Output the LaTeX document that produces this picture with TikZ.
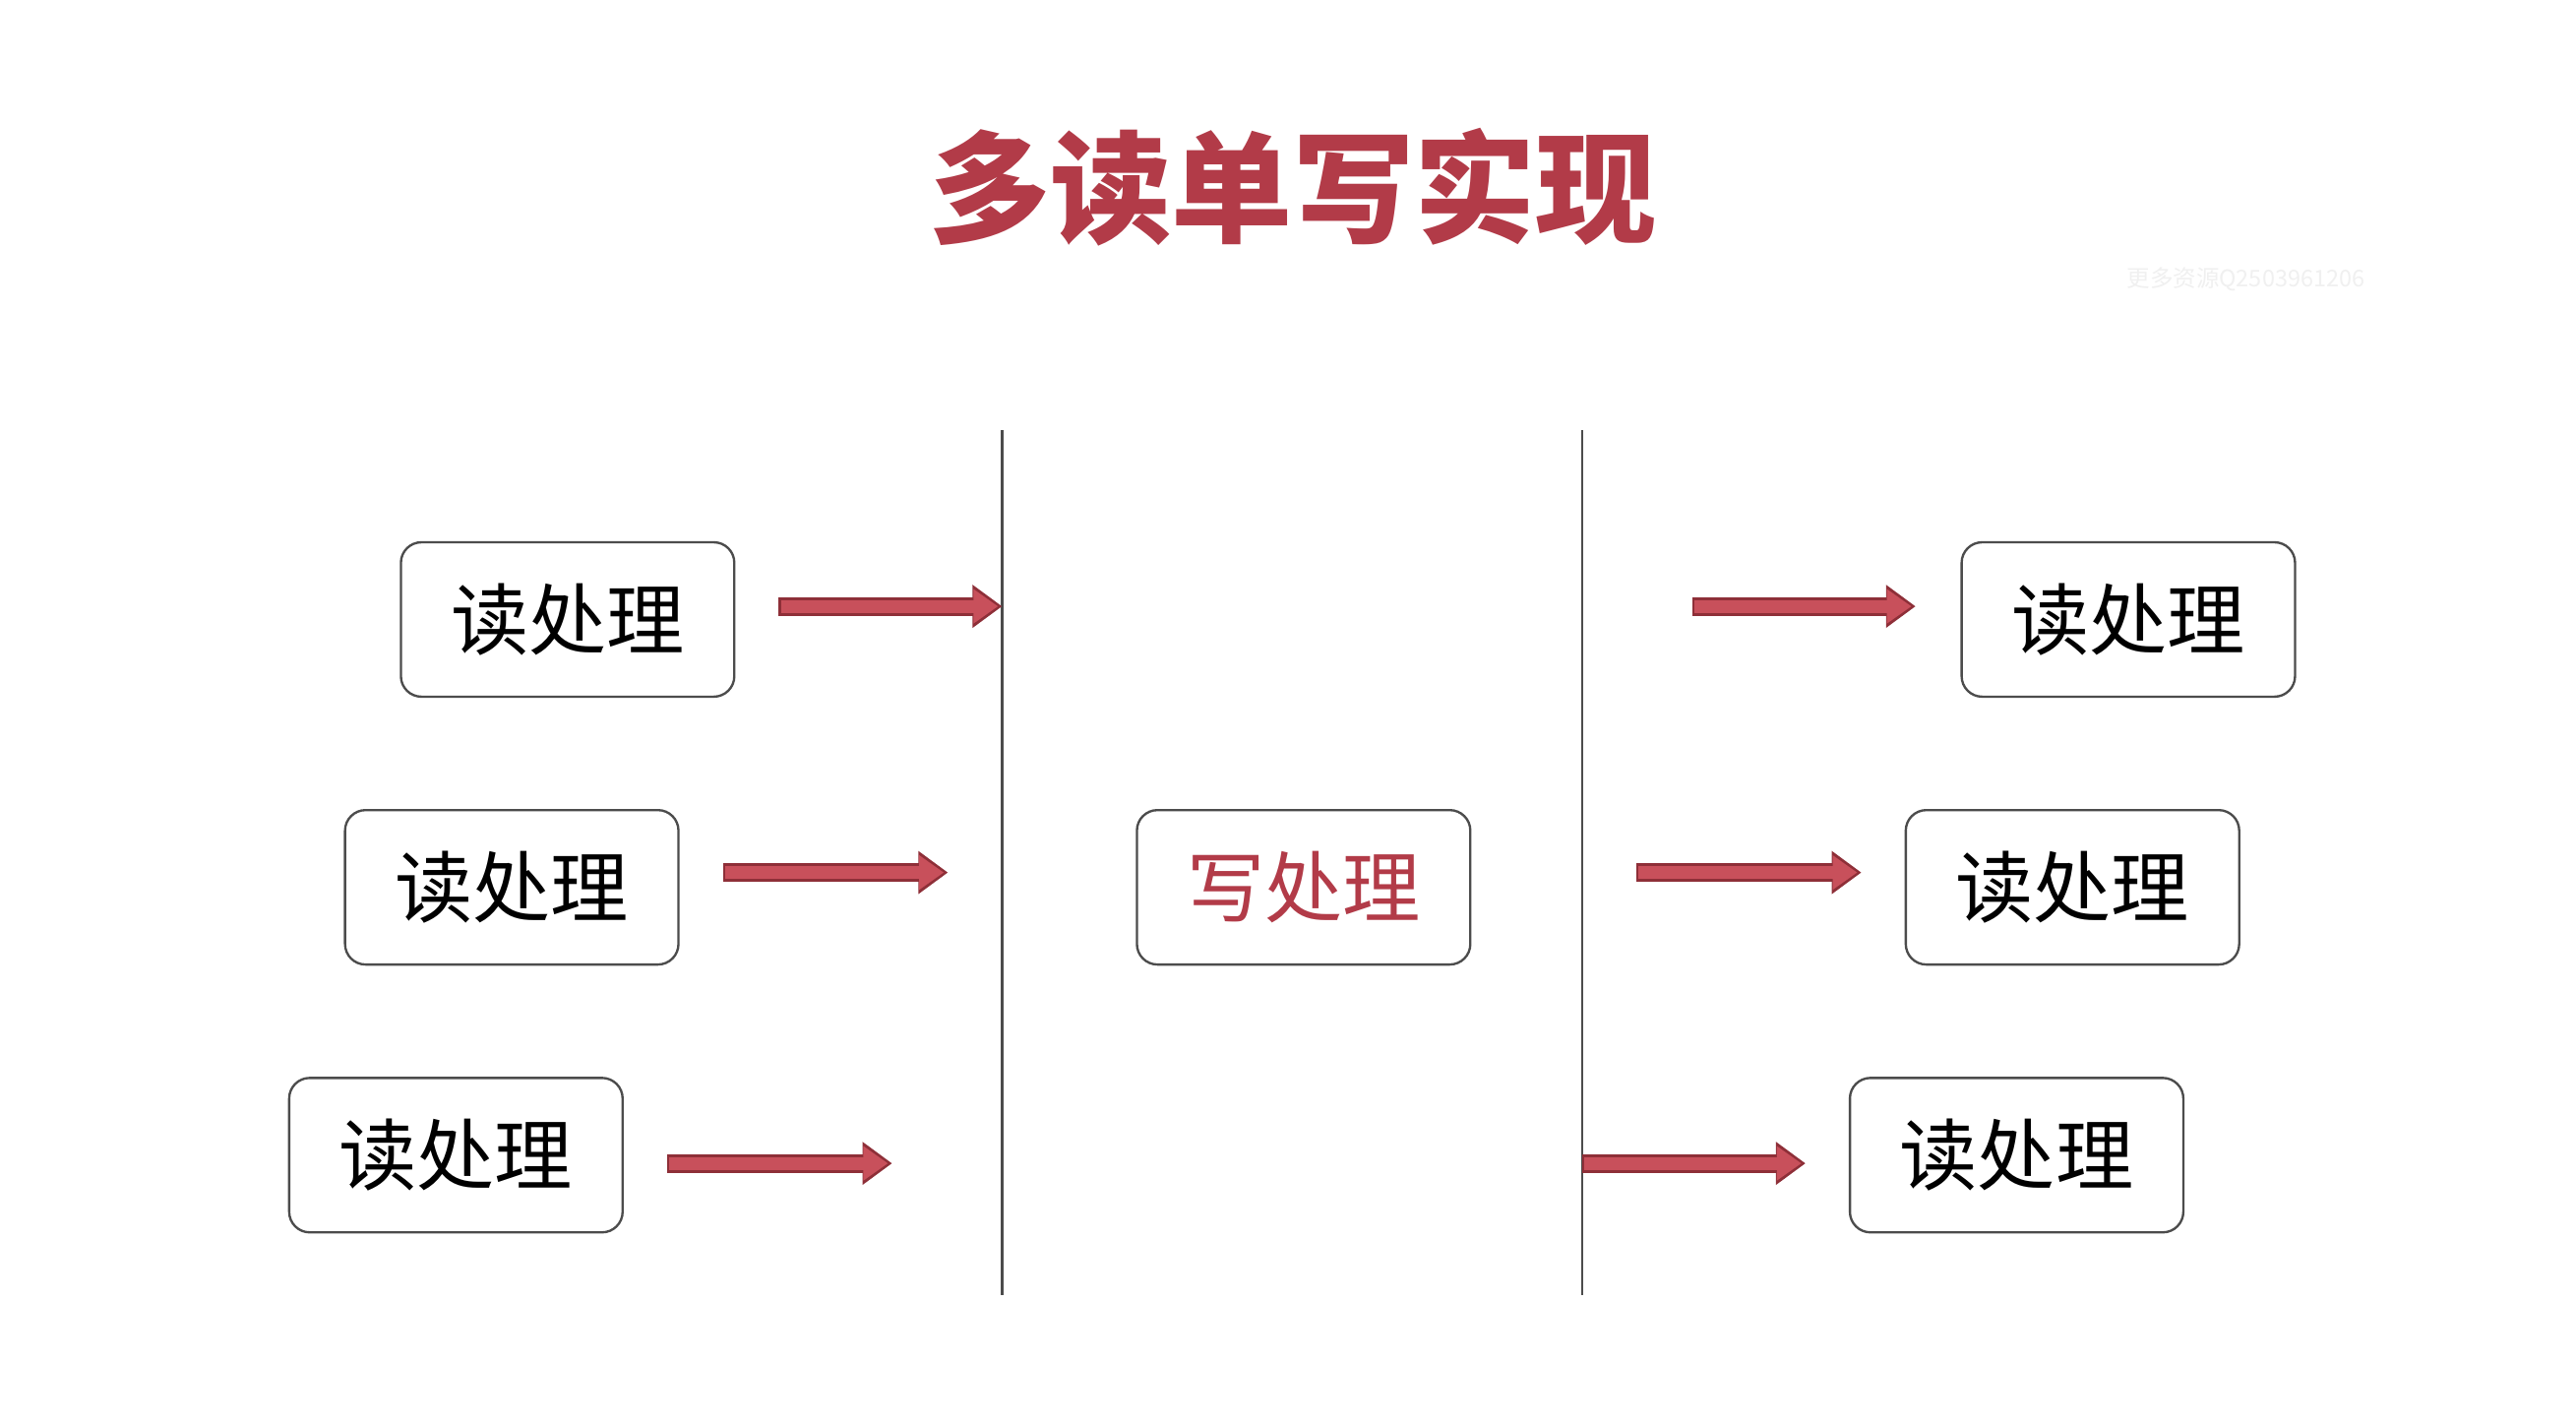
\documentclass[tikz,border=0pt]{standalone}
\usepackage{fontspec}
\newfontfamily\cjk{Noto Sans CJK SC}
\usetikzlibrary{arrows.meta}
\definecolor{tred}{HTML}{B23B48}
\definecolor{ared}{HTML}{C8505B}
\definecolor{aedge}{HTML}{8E2F38}
\begin{document}
\begin{tikzpicture}[x=0.02cm,y=-0.02cm,
  box/.style={draw=black!70,line width=0.8pt,rounded corners=0.25cm,minimum width=4.06cm,minimum height=1.88cm,font=\cjk\fontsize{27}{27}\selectfont,inner sep=0pt},
  arr/.style={draw=aedge,line width=6.5pt,-{Triangle[length=0.36cm,width=0.5cm]},shorten >=0pt},
  arrin/.style={draw=ared,line width=4.5pt,-{Triangle[length=0.3cm,width=0.4cm]},shorten >=0.05cm},
  vline/.style={draw=black!70,line width=0.8pt}]
\useasboundingbox (0,0) rectangle (1568,867);
\fill[white] (0,0) rectangle (1568,867);
\node[font=\cjk\bfseries\fontsize{42}{42}\selectfont,text=tred] (title) at (787,114) {多读单写实现};
\node[font=\cjk\fontsize{8}{8}\selectfont,text=black!6] (wm) at (1367,170) {更多资源Q2503961206};
\coordinate (v1t) at (610,262); \coordinate (v1b) at (610,788);
\coordinate (v2t) at (963,262); \coordinate (v2b) at (963,788);
\draw[vline] (v1t) -- (v1b);
\draw[vline] (v2t) -- (v2b);
\node[box] (l1) at (345.5,377) {读处理};
\node[box] (l2) at (311.5,540) {读处理};
\node[box] (l3) at (277.5,703) {读处理};
\node[box,text=tred] (w) at (793.5,540) {写处理};
\node[box] (r1) at (1295.5,377) {读处理};
\node[box] (r2) at (1261.5,540) {读处理};
\node[box] (r3) at (1227.5,703) {读处理};
\foreach \n/\a/\b/\y in {a1/474/610/369,a2/440/577/531,a3/406/543/708,b1/1030/1166/369,b2/996/1133/531,b3/963/1099/708}{
  \coordinate (\n s) at (\a,\y); \coordinate (\n e) at (\b,\y);
  \draw[arr] (\n s) -- (\n e);
  \draw[arrin] ([xshift=0.03cm]\n s) -- (\n e);
}
\end{tikzpicture}
\end{document}
